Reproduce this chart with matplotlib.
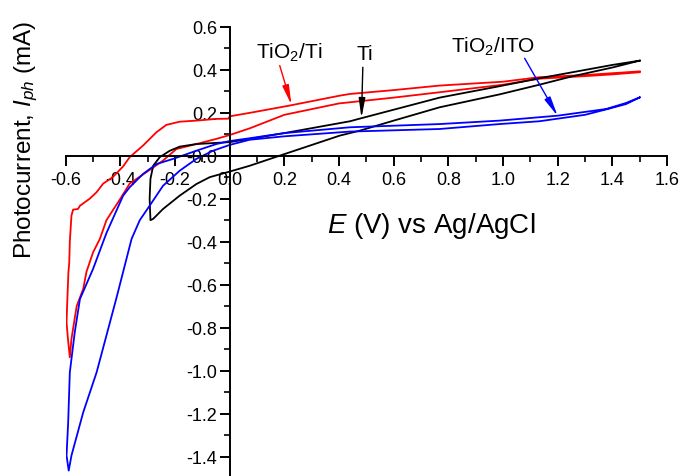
import numpy as np
import matplotlib
matplotlib.use("Agg")
import matplotlib.pyplot as plt
from matplotlib.ticker import MultipleLocator, FormatStrFormatter

plt.rcParams['font.family'] = ['Liberation Sans', 'DejaVu Sans']
plt.rcParams['mathtext.fontset'] = 'custom'
plt.rcParams['mathtext.rm'] = 'Liberation Sans'
plt.rcParams['mathtext.it'] = 'Liberation Sans:italic'
plt.rcParams['axes.unicode_minus'] = False

# -------------------------------
# Data
# -------------------------------
# TiO2/Ti (red): 1.5 V -> back to -0.6 V -> forward to 1.5 V
e_tio2_ti = [1.50, 1.40, 1.30, 1.133, 1.00, 0.768, 0.60, 0.40, 0.20, 0.073, 0.0,
             -0.049, -0.122, -0.195, -0.244, -0.305, -0.366, -0.40, -0.451, -0.475,
             -0.50, -0.524, -0.536, -0.56, -0.579, -0.585,
             -0.592, -0.597, -0.594, -0.590, -0.587, -0.585, -0.579, -0.573, -0.555,
             -0.548, -0.512, -0.487, -0.463, -0.428, -0.39, -0.366, -0.317, -0.268,
             -0.232, -0.183, -0.122, -0.049, -0.005, 0.0, 0.073, 0.219, 0.402, 0.44,
             0.60, 0.768, 1.00, 1.133, 1.30, 1.50]
i_tio2_ti = [0.388, 0.378, 0.370, 0.358, 0.330, 0.295, 0.270, 0.243, 0.190, 0.127, 0.096,
             0.078, 0.054, 0.031, -0.023, -0.077, -0.130, -0.200, -0.300, -0.387,
             -0.450, -0.540, -0.620, -0.700, -0.853, -0.938,
             -0.850, -0.775, -0.667, -0.540, -0.496, -0.400, -0.279, -0.251, -0.248,
             -0.233, -0.200, -0.170, -0.130, -0.100, -0.050, -0.007, 0.047, 0.109,
             0.143, 0.158, 0.163, 0.171, 0.172, 0.183, 0.199, 0.233, 0.279, 0.287,
             0.305, 0.326, 0.344, 0.365, 0.375, 0.392]

# Ti (black)
e_ti = [1.50, 1.40, 1.25, 1.133, 0.987, 0.768, 0.60, 0.475, 0.44, 0.402, 0.183,
        0.073, 0.0, -0.073, -0.122, -0.183, -0.244, -0.28, -0.29,
        -0.293, -0.29, -0.28, -0.256, -0.219, -0.183, -0.122, 0.0, 0.073, 0.20,
        0.44, 0.475, 0.768, 0.987, 1.133, 1.40, 1.50]
i_ti = [0.442, 0.410, 0.368, 0.330, 0.285, 0.225, 0.163, 0.116, 0.105, 0.093, 0.0,
        -0.047, -0.074, -0.100, -0.132, -0.186, -0.248, -0.294, -0.300,
        -0.200, -0.108, -0.047, -0.007, 0.023, 0.042, 0.054, 0.063, 0.078, 0.105,
        0.160, 0.172, 0.270, 0.323, 0.360, 0.422, 0.442]

# TiO2/ITO (blue)
e_tio2_ito = [1.50, 1.45, 1.377, 1.20, 0.987, 0.768, 0.44, 0.20, 0.073, 0.0, -0.049,
              -0.122, -0.207, -0.268, -0.317, -0.366, -0.39, -0.451, -0.50, -0.548,
              -0.567, -0.585, -0.591, -0.597, -0.589,
              -0.579, -0.536, -0.487, -0.414, -0.359, -0.329, -0.293, -0.244, -0.183,
              -0.122, -0.061, 0.0, 0.073, 0.20, 0.44, 0.768, 0.987, 1.133, 1.30,
              1.377, 1.45, 1.50]
i_tio2_ito = [0.271, 0.245, 0.217, 0.186, 0.163, 0.147, 0.132, 0.105, 0.081, 0.068, 0.054,
              0.023, -0.015, -0.039, -0.085, -0.147, -0.186, -0.360, -0.527, -0.667,
              -0.822, -1.008, -1.240, -1.395, -1.465,
              -1.395, -1.194, -1.008, -0.660, -0.387, -0.300, -0.233, -0.140, -0.070,
              -0.015, 0.023, 0.050, 0.074, 0.090, 0.112, 0.124, 0.147, 0.160, 0.190,
              0.215, 0.240, 0.271]

# labels: (text, text position, arrow start, arrow tip, arrow colour)
labels = ['TiO$_2$/Ti', 'Ti', 'TiO$_2$/ITO']
label_xy = [(0.219, 0.482), (0.494, 0.473), (0.962, 0.512)]
arrow_from = [(0.183, 0.419), (0.487, 0.411), (1.079, 0.453)]
arrow_to = [(0.226, 0.236), (0.482, 0.175), (1.2, 0.184)]
arrow_colors = ['#ff0000', 'black', '#0000ff']

# -------------------------------
# Graph
# -------------------------------
fig = plt.figure(figsize=(6.81, 4.77), dpi=100)
ax = fig.add_axes([0.0965, 0.0, 0.883, 0.942])

ax.plot(e_tio2_ti, i_tio2_ti, color='#ff0000', lw=1.3)
ax.plot(e_ti, i_ti, color='black', lw=1.3)
ax.plot(e_tio2_ito, i_tio2_ito, color='#0000ff', lw=1.3)

ax.set_xlim(-0.6, 1.6)
ax.set_ylim(-1.49, 0.6)

ax.spines['left'].set_position(('data', 0))
ax.spines['bottom'].set_position(('data', 0))
ax.spines['top'].set_visible(False)
ax.spines['right'].set_visible(False)
ax.spines['left'].set_linewidth(1.4)
ax.spines['bottom'].set_linewidth(1.4)

ax.xaxis.set_major_locator(MultipleLocator(0.2))
ax.xaxis.set_minor_locator(MultipleLocator(0.1))
ax.yaxis.set_major_locator(MultipleLocator(0.2))
ax.yaxis.set_minor_locator(MultipleLocator(0.1))
ax.xaxis.set_major_formatter(FormatStrFormatter('%.1f'))
ax.yaxis.set_major_formatter(FormatStrFormatter('%.1f'))
ax.set_yticks(np.arange(-1.4, 0.61, 0.2))
ax.tick_params(which='major', direction='out', length=7, width=1.4, labelsize=13, pad=2)
ax.tick_params(axis='x', which='major', pad=4)
ax.tick_params(which='minor', direction='out', length=4, width=1.2)

fig.text(26 / 681, 1 - 140 / 477, 'Photocurrent, $I_{ph}$ (mA)', rotation=90,
         ha='center', va='center', fontsize=17.5)
fig.text(431 / 681, 1 - 226 / 477, '$E$ (V) vs Ag/AgCl', ha='center', va='center',
         fontsize=20)

for txt, pos, a0, a1, c in zip(labels, label_xy, arrow_from, arrow_to, arrow_colors):
    ax.text(pos[0], pos[1], txt, fontsize=15, ha='center', va='center', color='black')
    ax.annotate('', xy=a1, xytext=a0,
                arrowprops=dict(arrowstyle='-|>,head_width=0.15,head_length=0.9',
                                color=c, lw=1, shrinkA=0, shrinkB=0,
                                mutation_scale=13))

plt.savefig("out.png", dpi=100)
